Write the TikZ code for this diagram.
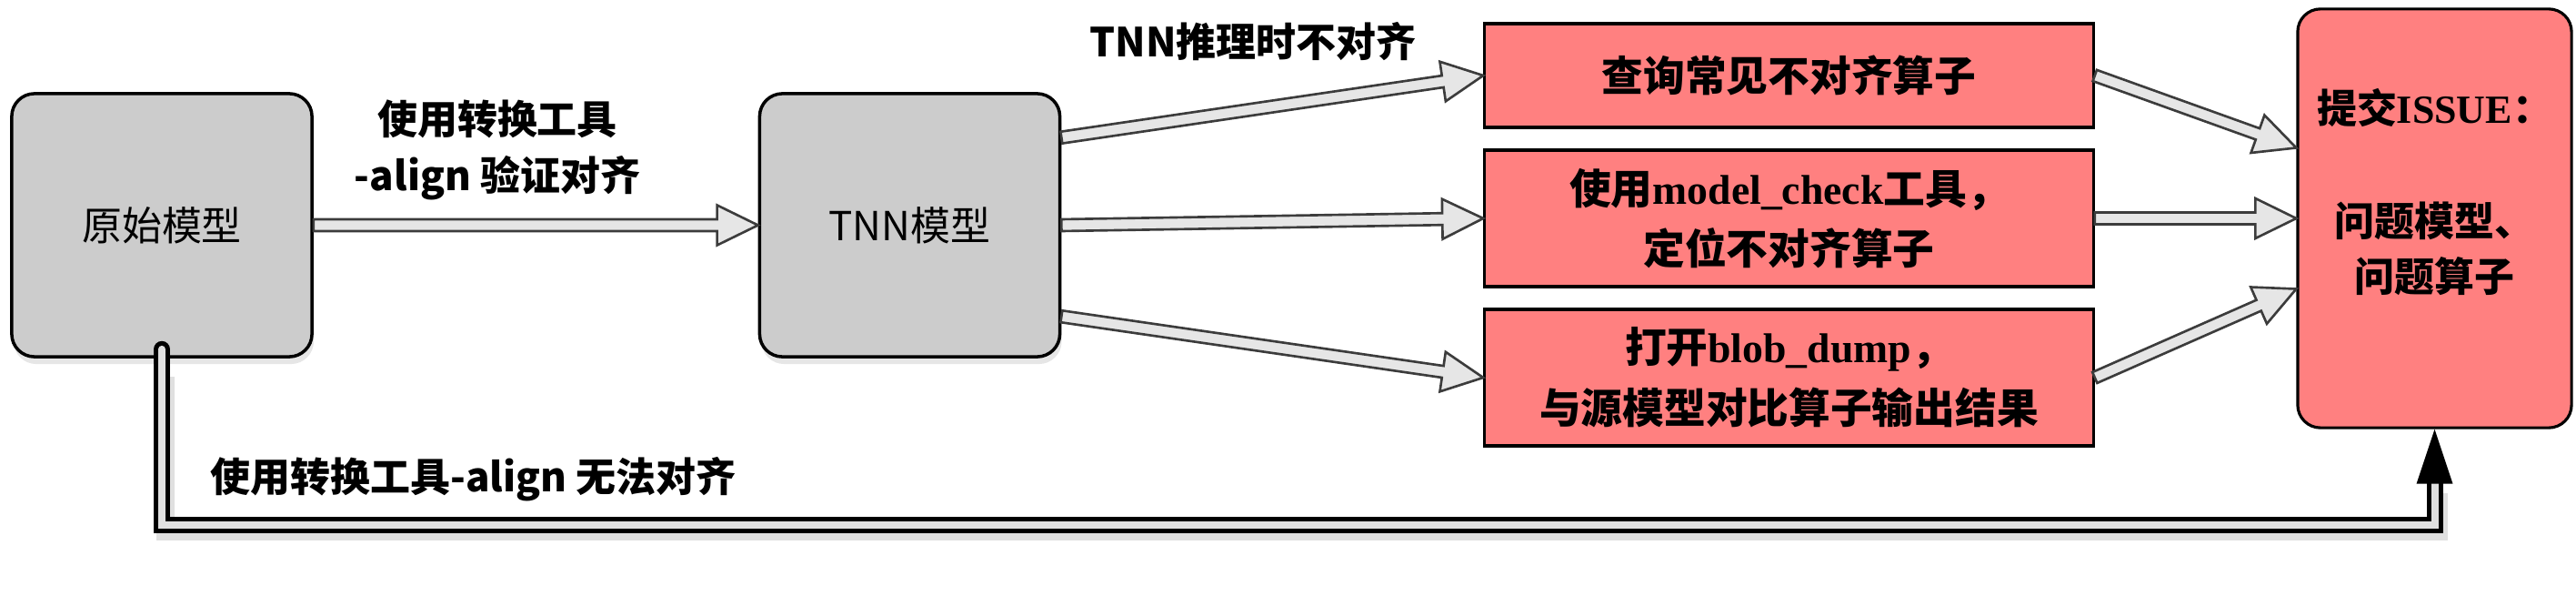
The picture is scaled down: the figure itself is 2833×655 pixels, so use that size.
\documentclass[tikz,border=0pt]{standalone}
\usepackage{fontspec}
\setmainfont{Liberation Serif}
\newfontfamily\zhfont{Noto Sans CJK SC}
\usepackage{tikz}
\usetikzlibrary{calc, shadows}

\definecolor{boxgray}{HTML}{CCCCCC}
\definecolor{boxred}{HTML}{FF8080}
\definecolor{arrowfill}{HTML}{E6E6E6}
\definecolor{arrowedge}{HTML}{3C3C3C}
\definecolor{pipefill}{HTML}{E0E0E0}

\newcommand{\zh}[1]{{\zhfont #1}}

% hollow block arrow from #1 to #2
\newcommand{\fatarrow}[2]{%
  \coordinate (fa) at ($(#2)!0.45cm!(#1)$);
  \draw[fatline] ($(#1)!0.065cm!90:(#2)$) -- ($(fa)!0.065cm!-90:(#1)$) -- ($(fa)!0.22cm!-90:(#1)$) -- (#2)
    -- ($(fa)!0.22cm!90:(#1)$) -- ($(fa)!0.065cm!90:(#1)$) -- ($(#1)!0.065cm!-90:(#2)$) -- cycle;
}

\tikzset{
  graybox/.style={draw, line width=1pt, rounded corners=0.25cm, fill=boxgray,
    minimum width=3.3cm, minimum height=2.89cm, font=\zhfont\fontsize{12.5pt}{15pt}\selectfont,
    drop shadow={shadow xshift=0.02cm, shadow yshift=-0.08cm, opacity=0.2}},
  redbox/.style={draw, line width=0.9pt, fill=boxred, minimum width=6.69cm, align=center,
    font=\bfseries\fontsize{13pt}{19pt}\selectfont},
  issuebox/.style={draw, line width=0.9pt, fill=boxred, rounded corners=0.25cm,
    minimum width=3.01cm, minimum height=4.6cm, align=center,
    font=\bfseries\fontsize{12.5pt}{17.6pt}\selectfont},
  edgetext/.style={font=\zhfont\bfseries\fontsize{12.5pt}{17.6pt}\selectfont, align=center},
  fatline/.style={draw=arrowedge, fill=arrowfill, line width=0.75pt, line join=miter},
  pipe/.style={draw=black, line width=0.05cm, double=pipefill, double distance=0.08cm, line cap=round},
  pipeshadow/.style={draw=black, opacity=0.12, line width=0.2cm},
}

\begin{document}
\begin{tikzpicture}[x=0.01cm, y=-0.01cm]
    \useasboundingbox (0,0) rectangle (2833,655);
    % Modelos
    \node[graybox] (orig) at (178,247.5) {原始模型};
    \node[graybox] (tnn) at (1000.5,247.5) {TNN模型};
    % Pasos
    \node[redbox, minimum height=1.14cm] (q1) at (1967.5,83) {\zh{查询常见不对齐算子}};
    \node[redbox, minimum height=1.5cm] (q2) at (1967.5,240) {\zh{使用}model\_check\zh{工具，}\\\zh{定位不对齐算子}};
    \node[redbox, minimum height=1.5cm] (q3) at (1967.5,415) {\zh{打开}blob\_dump\zh{，}\\\zh{与源模型对比算子输出结果}};
    \node[issuebox] (issue) at (2677.5,240) {\zh{提交}ISSUE\zh{：}\\\mbox{}\\\zh{问题模型、}\\\zh{问题算子}\\\mbox{}};
    % Textos
    \node[edgetext] (verify) at (547,165) {使用转换工具\\-align 验证对齐};
    \node[edgetext] (infer) at (1378,46) {TNN推理时不对齐};
    \node[edgetext, anchor=west] (fail) at (219,527) {使用转换工具-align 无法对齐};
    % Flechas
    \fatarrow{orig.east}{tnn.west}
    \fatarrow{tnn.30}{q1.west}
    \fatarrow{tnn.east}{q2.west}
    \fatarrow{tnn.-31}{q3.west}
    \fatarrow{q1.east}{issue.153}
    \fatarrow{q2.east}{issue.west}
    \fatarrow{q3.east}{issue.207}
    % Camino inferior
    \draw[pipeshadow] ($(orig.south)+(4,20)$) |- ($(issue.south)+(4,112)$) -- ($(issue.south)+(4,70)$);
    \draw[pipe] ($(orig.south)+(0,-10)$) |- ($(issue.south)+(0,105)$) -- ($(issue.south)+(0,58)$);
    \fill (issue.south) -- ++(-20,60) -- ++(40,0) -- cycle;
\end{tikzpicture}
\end{document}
